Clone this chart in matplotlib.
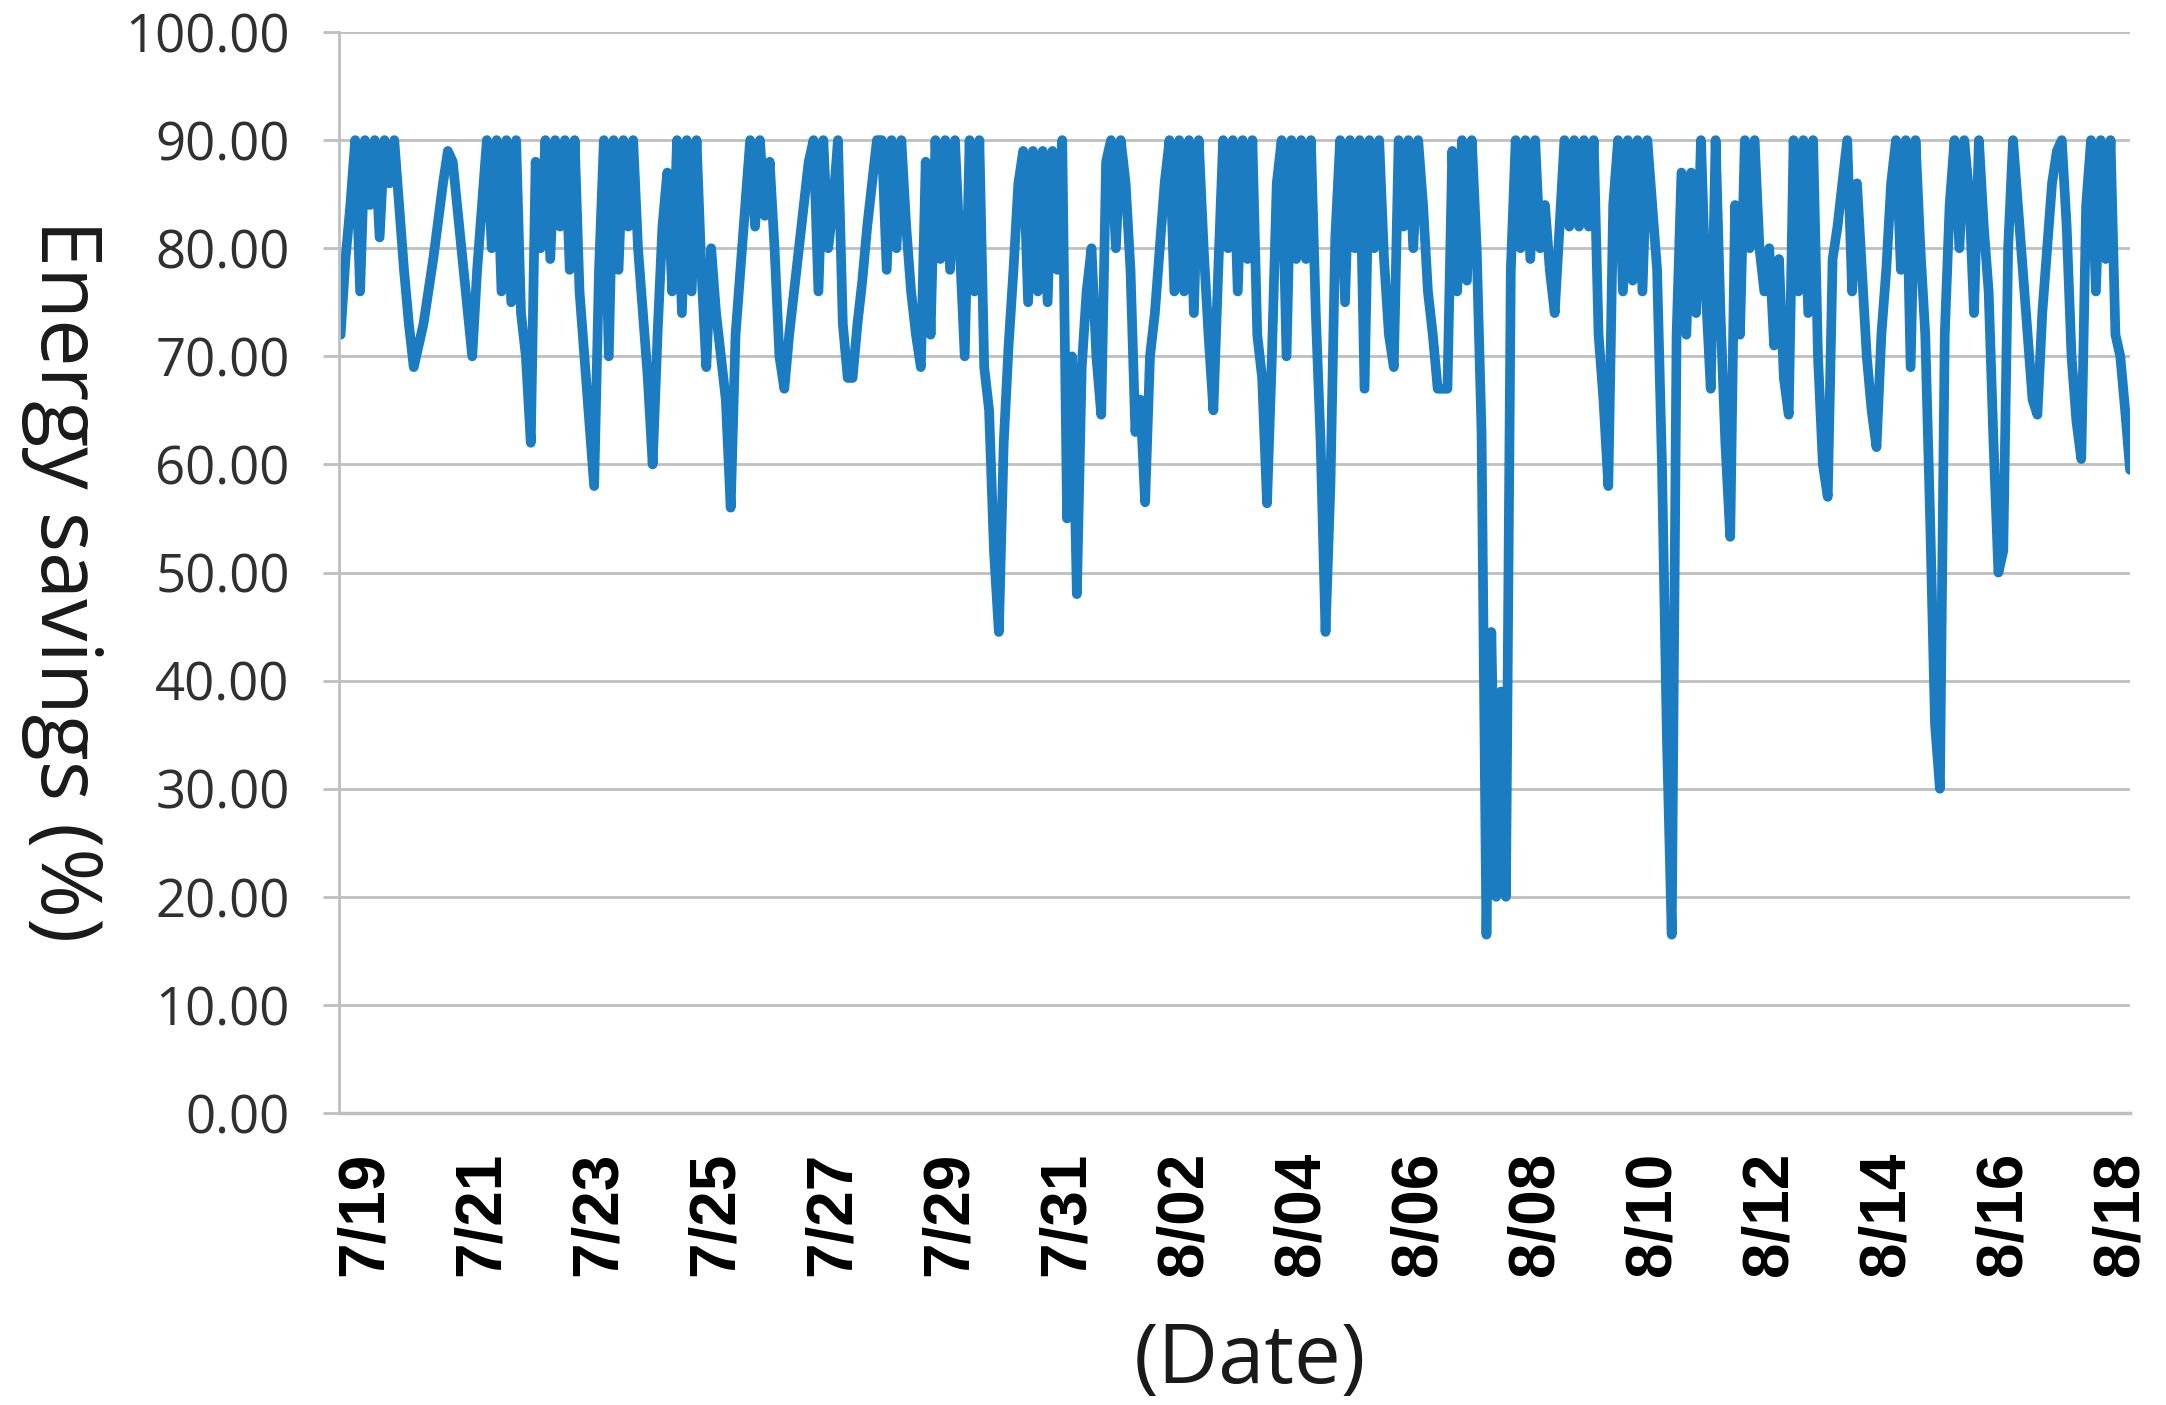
import numpy as np
import pandas as pd
import matplotlib
matplotlib.use("Agg")
import matplotlib.pyplot as plt

# energy savings (%), one value every 2 hours
jul18 = [72, 79, 84, 90, 76]  # starts 14:00
jul19 = [90, 84, 90, 81, 90, 86, 90, 84, 78, 73, 69, 71]
jul20 = [73, 76, 79, 82.5, 86, 89, 88, 83.5, 79, 74.5, 70, 78]
jul21 = [84, 90, 80, 90, 76, 90, 75, 90, 74, 70, 62, 88]
jul22 = [80, 90, 79, 90, 82, 90, 78, 90, 76, 70, 64, 58]
jul23 = [78, 90, 70, 90, 78, 90, 82, 90, 80, 74, 68, 60]
jul24 = [72, 82, 87, 76, 90, 74, 90, 76, 90, 78, 69, 80]
jul25 = [74, 70, 66, 56, 72, 78, 84, 90, 82, 90, 83, 88]
jul26 = [80, 70, 67, 72, 76, 80, 84, 88, 90, 76, 90, 80]
jul27 = [84, 90, 73, 68, 68, 73, 77, 82, 86, 90, 90, 78]
jul28 = [90, 80, 90, 82, 76, 72, 69, 88, 72, 90, 79, 90]
jul29 = [78, 90, 80, 70, 90, 76, 90, 69, 65, 52, 44.5, 62]
jul30 = [71, 78, 86, 89, 75, 89, 76, 89, 75, 89, 78, 90]
jul31 = [55, 70, 48, 69, 76, 80, 70, 64.6, 88, 90, 80, 90]
aug01 = [86, 78, 63, 66, 56.5, 70, 74, 80, 86, 90, 76, 90]
aug02 = [76, 90, 74, 90, 80, 72, 65, 78, 90, 80, 90, 76]
aug03 = [90, 79, 90, 72, 68, 56.4, 70, 86, 90, 70, 90, 79]
aug04 = [90, 79, 90, 74, 62, 44.5, 58, 81, 90, 75, 90, 80]
aug05 = [90, 67, 90, 80, 90, 79, 72, 69, 90, 82, 90, 80]
aug06 = [90, 84, 76, 72, 67, 67, 67, 89, 76, 90, 77, 90]
aug07 = [80, 63, 16.5, 44.5, 20, 39, 20, 78, 90, 80, 90, 79]
aug08 = [90, 80, 84, 78, 74, 82, 90, 82, 90, 82, 90, 82]
aug09 = [90, 72, 66, 58, 84, 90, 76, 90, 77, 90, 76, 90]
aug10 = [84, 78, 60, 35, 16.5, 72, 87, 72, 87, 74, 90, 76]
aug11 = [67, 90, 74, 62, 53.3, 84, 72, 90, 80, 90, 80, 76]
aug12 = [80, 71, 79, 68, 64.6, 90, 76, 90, 74, 90, 70, 60]
aug13 = [57, 79, 82, 86, 90, 76, 86, 78, 70, 65, 61.6, 72]
aug14 = [78, 86, 90, 78, 90, 69, 90, 80, 72, 55, 36, 30]
aug15 = [72, 84, 90, 80, 90, 85, 74, 90, 82, 76, 62, 50]
aug16 = [52, 80, 90, 84, 78, 72, 66, 64.6, 74, 80, 86, 89]
aug17 = [90, 82, 70, 64, 60.5, 84, 90, 76, 90, 79, 90, 72]
aug18 = [70, 65, 59.5]

savings = np.concatenate([
    jul18, jul19, jul20, jul21, jul22, jul23, jul24, jul25, jul26, jul27,
    jul28, jul29, jul30, jul31, aug01, aug02, aug03, aug04, aug05, aug06,
    aug07, aug08, aug09, aug10, aug11, aug12, aug13, aug14, aug15, aug16,
    aug17, aug18,
])
times = pd.date_range("2019-07-18 14:00", periods=len(savings), freq="2h")

tick_days = pd.date_range("2019-07-19", "2019-08-18", freq="2D")
tick_labels = [f"{d.month}/{d.day:02d}" for d in tick_days]
y_ticks = np.arange(0, 101, 10)

grid_col = "#bfbfbf"

fig = plt.figure(figsize=(21.66, 14.05), dpi=100)
ax = fig.add_axes([0.1565, 0.2078, 0.8269, 0.7694])

ax.plot(times, savings, color="#1b7cc1", linewidth=7, solid_joinstyle="round",
        solid_capstyle="round")

ax.set_ylim(0, 100)
ax.set_xlim(pd.Timestamp("2019-07-18 13:20"), pd.Timestamp("2019-08-18 04:00"))
ax.set_yticks(y_ticks)
ax.set_yticklabels([f"{v:.2f}" for v in y_ticks], fontsize=38,
                   family="Open Sans", color="#303030")
ax.set_xticks(tick_days)
ax.set_xticklabels(tick_labels, rotation=90, fontsize=46, fontweight="bold",
                   family="Liberation Sans", color="black")

ax.yaxis.grid(True, color=grid_col, linewidth=2)
ax.set_axisbelow(True)
for s in ["top", "right"]:
    ax.spines[s].set_visible(False)
ax.spines["left"].set_color(grid_col)
ax.spines["left"].set_linewidth(2)
ax.spines["bottom"].set_color(grid_col)
ax.spines["bottom"].set_linewidth(2.5)
ax.tick_params(axis="y", length=11.5, width=2, color=grid_col, pad=24)
ax.tick_params(axis="x", length=0, pad=28)

fig.text(0.029, 0.587, "Energy savings (%)", rotation=270, ha="center",
         va="center", fontsize=61, family="Open Sans", color="#1a1a1a")
fig.text(0.577, 0.031, "(Date)", ha="center", va="center", fontsize=60,
         family="Open Sans", color="#1a1a1a")

fig.savefig("out.png", dpi=100)
